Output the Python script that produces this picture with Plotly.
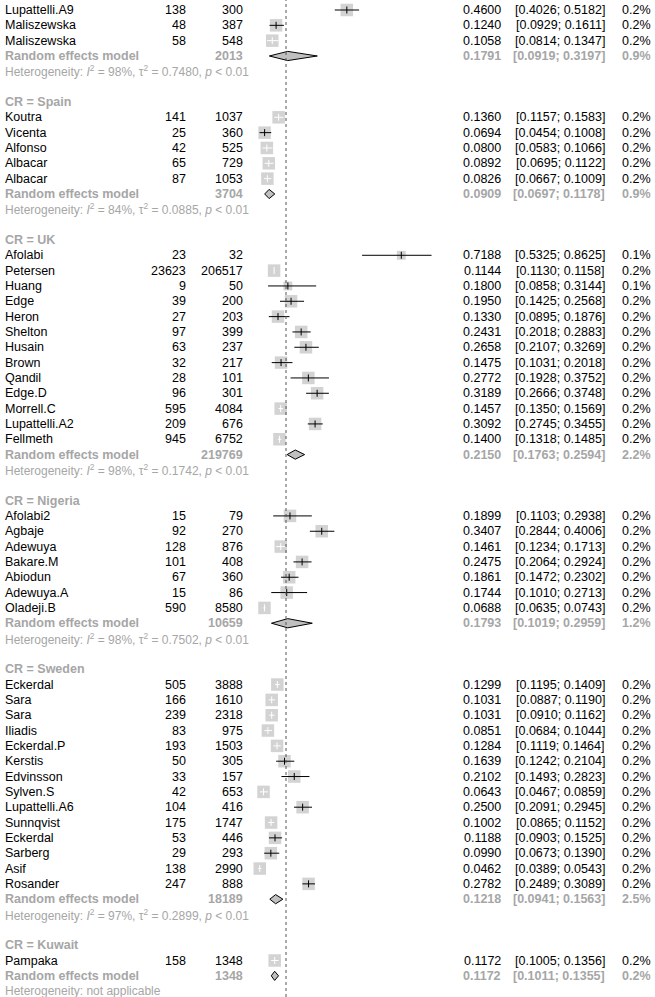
import plotly.graph_objects as go

# single studies, in display order
study = ["Lupattelli.A9", "Maliszewska", "Maliszewska",
         "Koutra", "Vicenta", "Alfonso", "Albacar", "Albacar",
         "Afolabi", "Petersen", "Huang", "Edge", "Heron", "Shelton", "Husain", "Brown",
         "Qandil", "Edge.D", "Morrell.C", "Lupattelli.A2", "Fellmeth",
         "Afolabi2", "Agbaje", "Adewuya", "Bakare.M", "Abiodun", "Adewuya.A", "Oladeji.B",
         "Eckerdal", "Sara", "Sara", "Iliadis", "Eckerdal.P", "Kerstis", "Edvinsson",
         "Sylven.S", "Lupattelli.A6", "Sunnqvist", "Eckerdal", "Sarberg", "Asif", "Rosander",
         "Pampaka"]
events = [138, 48, 58,
          141, 25, 42, 65, 87,
          23, 23623, 9, 39, 27, 97, 63, 32, 28, 96, 595, 209, 945,
          15, 92, 128, 101, 67, 15, 590,
          505, 166, 239, 83, 193, 50, 33, 42, 104, 175, 53, 29, 138, 247,
          158]
total = [300, 387, 548,
         1037, 360, 525, 729, 1053,
         32, 206517, 50, 200, 203, 399, 237, 217, 101, 301, 4084, 676, 6752,
         79, 270, 876, 408, 360, 86, 8580,
         3888, 1610, 2318, 975, 1503, 305, 157, 653, 416, 1747, 446, 293, 2990, 888,
         1348]
est = [0.4600, 0.1240, 0.1058,
       0.1360, 0.0694, 0.0800, 0.0892, 0.0826,
       0.7188, 0.1144, 0.1800, 0.1950, 0.1330, 0.2431, 0.2658, 0.1475, 0.2772, 0.3189,
       0.1457, 0.3092, 0.1400,
       0.1899, 0.3407, 0.1461, 0.2475, 0.1861, 0.1744, 0.0688,
       0.1299, 0.1031, 0.1031, 0.0851, 0.1284, 0.1639, 0.2102, 0.0643, 0.2500, 0.1002,
       0.1188, 0.0990, 0.0462, 0.2782,
       0.1172]
lower = [0.4026, 0.0929, 0.0814,
         0.1157, 0.0454, 0.0583, 0.0695, 0.0667,
         0.5325, 0.1130, 0.0858, 0.1425, 0.0895, 0.2018, 0.2107, 0.1031, 0.1928, 0.2666,
         0.1350, 0.2745, 0.1318,
         0.1103, 0.2844, 0.1234, 0.2064, 0.1472, 0.1010, 0.0635,
         0.1195, 0.0887, 0.0910, 0.0684, 0.1119, 0.1242, 0.1493, 0.0467, 0.2091, 0.0865,
         0.0903, 0.0673, 0.0389, 0.2489,
         0.1005]
upper = [0.5182, 0.1611, 0.1347,
         0.1583, 0.1008, 0.1066, 0.1122, 0.1009,
         0.8625, 0.1158, 0.3144, 0.2568, 0.1876, 0.2883, 0.3269, 0.2018, 0.3752, 0.3748,
         0.1569, 0.3455, 0.1485,
         0.2938, 0.4006, 0.1713, 0.2924, 0.2302, 0.2713, 0.0743,
         0.1409, 0.1190, 0.1162, 0.1044, 0.1464, 0.2104, 0.2823, 0.0859, 0.2945, 0.1152,
         0.1525, 0.1390, 0.0543, 0.3089,
         0.1356]
weight = [0.2, 0.2, 0.2,
          0.2, 0.2, 0.2, 0.2, 0.2,
          0.1, 0.2, 0.1, 0.2, 0.2, 0.2, 0.2, 0.2, 0.2, 0.2, 0.2, 0.2, 0.2,
          0.2, 0.2, 0.2, 0.2, 0.2, 0.2, 0.2,
          0.2, 0.2, 0.2, 0.2, 0.2, 0.2, 0.2, 0.2, 0.2, 0.2, 0.2, 0.2, 0.2, 0.2,
          0.2]

# subgroups (first one is cut off at the top, no header)
group_name = [None, "Spain", "UK", "Nigeria", "Sweden", "Kuwait"]
group_size = [3, 5, 13, 7, 14, 1]
re_total = [2013, 3704, 219769, 10659, 18189, 1348]
re_est = [0.1791, 0.0909, 0.2150, 0.1793, 0.1218, 0.1172]
re_lo = [0.0919, 0.0697, 0.1763, 0.1019, 0.0941, 0.1011]
re_hi = [0.3197, 0.1178, 0.2594, 0.2959, 0.1563, 0.1355]
re_w = [0.9, 0.9, 2.2, 1.2, 2.5, 0.2]
het_i2 = [98, 84, 98, 98, 97, None]
het_tau2 = [0.7480, 0.0885, 0.1742, 0.7502, 0.2899, None]

ref_line = 0.171

W, H = 655, 997
PX0, PXS = 250, 210.5          # pixel of 0 and pixels per unit on the x scale
FONT = "Liberation Sans, Arial, Helvetica, sans-serif"
GREY = "#a6a6a6"
SQ = "#c0c0c0"
FS = 12.5
BOX = 12.5      # square side for 0.2% weight
INNER = 11.5    # CI narrower than this is drawn white inside the box

fig = go.Figure()
ann = []


def txt(x, y, s, anchor="left", color="black", bold=False, size=FS):
    if bold:
        s = "<b>" + s + "</b>"
    ann.append(dict(x=x / W, y=y, xref="paper", yref="y", text=s, showarrow=False,
                    xanchor=anchor, yanchor="middle",
                    font=dict(family=FONT, size=size, color=color)))


sq_x, sq_y, sq_s = [], [], []
blk_x, blk_y, wht_x, wht_y = [], [], [], []
tk_x, tk_y, tk_c = [], [], []
diamonds = []

r = 1
k = 0
for g in range(len(group_name)):
    if group_name[g] is not None:
        r += 1
        txt(3, r, "CR = " + group_name[g], color=GREY, bold=True)
        r += 1
    for i in range(k, k + group_size[g]):
        txt(3, r, study[i])
        txt(188, r, str(events[i]), "right")
        txt(245, r, str(total[i]), "right")
        txt(503, r, f"{est[i]:.4f}", "right")
        txt(607, r, f"[{lower[i]:.4f}; {upper[i]:.4f}]", "right")
        txt(653, r, f"{weight[i]:.1f}%", "right")
        f = (weight[i] / 0.2) ** 0.5
        sq_x.append(est[i]); sq_y.append(r); sq_s.append(BOX * f)
        inside = (upper[i] - lower[i]) * PXS < INNER * f
        if inside:
            wht_x += [lower[i], upper[i], None]; wht_y += [r, r, None]
        else:
            blk_x += [lower[i], upper[i], None]; blk_y += [r, r, None]
        tk_x.append(est[i]); tk_y.append(r); tk_c.append("white" if inside else "black")
        r += 1
    k += group_size[g]
    # random effects row
    txt(3, r, "Random effects model", color=GREY, bold=True)
    txt(245, r, str(re_total[g]), "right", color=GREY, bold=True)
    txt(503, r, f"{re_est[g]:.4f}", "right", color=GREY, bold=True)
    txt(607, r, f"[{re_lo[g]:.4f}; {re_hi[g]:.4f}]", "right", color=GREY, bold=True)
    txt(653, r, f"{re_w[g]:.1f}%", "right", color=GREY, bold=True)
    diamonds.append((re_lo[g], re_est[g], re_hi[g], r))
    r += 1
    if het_i2[g] is None:
        het = "Heterogeneity: not applicable"
    else:
        het = (f"Heterogeneity: <i>I</i><sup>2</sup> = {het_i2[g]}%, "
               f"τ<sup>2</sup> = {het_tau2[g]:.4f}, <i>p</i> &lt; 0.01")
    txt(3, r, het, color=GREY, size=12)
    r += 1

n_rows = r - 1

for lo, m, hi, yy in diamonds:
    fig.add_trace(go.Scatter(x=[lo, m, hi, m, lo], y=[yy, yy - 0.3, yy, yy + 0.3, yy],
                             mode="lines", fill="toself", fillcolor=SQ,
                             line=dict(color="black", width=1), hoverinfo="skip"))

fig.add_trace(go.Scatter(x=sq_x, y=sq_y, mode="markers",
                         marker=dict(symbol="square", size=sq_s, color=SQ,
                                     line=dict(width=0))))
fig.add_trace(go.Scatter(x=blk_x, y=blk_y, mode="lines",
                         line=dict(color="black", width=1)))
fig.add_trace(go.Scatter(x=wht_x, y=wht_y, mode="lines",
                         line=dict(color="white", width=1)))
fig.add_trace(go.Scatter(x=tk_x, y=tk_y, mode="markers",
                         marker=dict(symbol="line-ns", size=5,
                                     line=dict(color=tk_c, width=1))))

fig.add_shape(type="line", x0=ref_line, x1=ref_line, y0=0, y1=1, xref="x", yref="paper",
              line=dict(color="#555555", width=1, dash="dot"))

fig.update_layout(
    width=W, height=H, margin=dict(l=0, r=0, t=0, b=0),
    plot_bgcolor="white", paper_bgcolor="white", showlegend=False,
    annotations=ann,
    xaxis=dict(range=[-PX0 / PXS, (W - PX0) / PXS], visible=False),
    yaxis=dict(range=[n_rows + 0.38, 0.348], visible=False),
)

fig.write_html("out.html", config={"displayModeBar": False},
               post_script="document.body.style.margin='0';document.body.style.overflow='hidden';")
